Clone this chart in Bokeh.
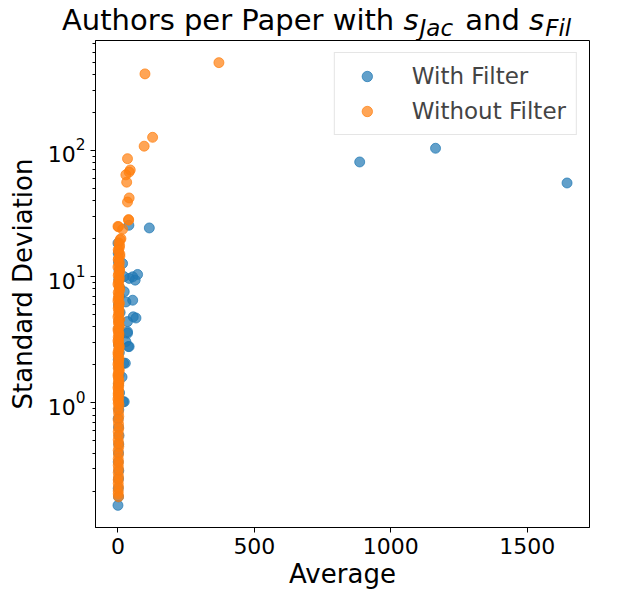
import math
from bokeh.plotting import figure
from bokeh.layouts import column
from bokeh.models import (Range1d, Div, Legend, LegendItem, FixedTicker, LogTickFormatter)
from bokeh.embed import file_html
from bokeh.resources import INLINE

# ---- data: With Filter (blue) ----
with_x = [886, 1164, 1646, 40, 115, 0, 54, 72, 63, 41, 23, 54, 29, 56, 66, 35, 35, 41, 29,
          27, 23, 0, 22, 35, 38, 21, 19, 15, 17,
          1, 2, 4, 3, 6, 5, 2, 8, 4, 3, 6, 2, 5, 1, 3, 4, 2, 6, 3, 1, 2, 4, 3, 2, 1, 3, 2, 1, 2, 1]
with_y = [81, 104, 55.2, 25.5, 24.3, 18.4, 9.96, 10.4, 9.38, 9.68, 7.6, 6.5, 6.3, 4.8, 4.7, 4.4,
          3.56, 2.79, 3.05, 2.06, 1.02, 0.154, 10.0, 3.66, 2.79, 2.06, 1.02, 1.6, 12.7,
          15.3, 13.0, 11.2, 9.5, 8.2, 7.0, 6.0, 5.2, 4.5, 3.9, 3.4, 2.9, 2.5, 2.2, 1.9, 1.65,
          1.4, 1.2, 0.88, 0.75, 0.64, 0.55, 0.47, 0.4, 0.34, 0.29, 0.25, 0.21, 0.18]

# ---- data: Without Filter (orange) ----
without_x = [370, 99, 127, 96, 35, 45, 41, 29, 32, 41, 35, 39, 39, 2, 17, 0, 8, 11,
             3, 5, 2, 7, 1, 4, 6, 3, 5, 2, 4, 6, 3, 1, 5, 2, 4, 3, 6, 2, 5, 1, 4, 3,
             2, 5, 3, 1, 4, 2, 3, 5, 1, 2, 4, 3, 2, 1, 3, 2, 4, 1, 2, 3, 1, 2, 3, 1,
             2, 1, 2, 3, 1, 2, 1, 2, 1, 2, 1, 2, 1, 1, 2, 1, 1, 2,
             6, 1, 7, 2, 5, 0, 6, 1, 4, 0, 5, 1, 3, 0, 4, 1, 3, 0, 2, 4, 0, 3, 1, 0, 2,
             3, 0, 1, 2, 0, 1, 3, 0, 2, 1, 0, 2, 1, 0, 1]
without_y = [496, 404, 127, 108, 86, 70, 67.4, 64, 56, 42, 39, 28, 28.3, 24.8, 23.7, 25, 19.6, 20,
             18.5, 17.0, 15.8, 14.5, 13.6, 12.4, 11.5, 10.6, 9.8, 9.1, 8.4, 7.8, 7.2, 6.7, 6.2,
             5.8, 5.4, 5.0, 4.6, 4.3, 4.0, 3.7, 3.45, 3.2, 3.0, 2.8, 2.6, 2.42, 2.25, 2.1, 1.95,
             1.82, 1.7, 1.58, 1.47, 1.37, 1.28, 1.19, 1.11, 1.03, 0.96, 0.9, 0.84, 0.78, 0.73,
             0.68, 0.63, 0.59, 0.55, 0.51, 0.48, 0.45, 0.42, 0.39, 0.36, 0.34, 0.32, 0.3, 0.28,
             0.26, 0.245, 0.23, 0.215, 0.2, 0.19, 0.18,
             17.7, 16.3, 15.1, 14.0, 13.0, 11.9, 11.0, 10.2, 9.4, 8.7, 8.1, 7.5, 6.9, 6.4, 6.0,
             5.6, 5.2, 4.8, 4.45, 4.15, 3.85, 3.57, 3.32, 3.1, 2.9, 2.7, 2.5, 2.33, 2.17, 2.02,
             1.88, 1.76, 1.64, 1.52, 1.42, 1.32, 1.23, 1.15, 1.07, 0.99]

x_ticks = [0, 500, 1000, 1500]
y_major = [1, 10, 100]
y_minor = [0.2, 0.3, 0.4, 0.5, 0.6, 0.7, 0.8, 0.9,
           2, 3, 4, 5, 6, 7, 8, 9,
           20, 30, 40, 50, 60, 70, 80, 90,
           200, 300, 400, 500, 600, 700]

FONT = "DejaVu Sans"
BLUE = "#1f77b4"
ORANGE = "#ff7f0e"

# matplotlib-like 5% margins
all_x = with_x + without_x
all_y = with_y + without_y
xmin, xmax = min(all_x), max(all_x)
xm = 0.05 * (xmax - xmin)
lmin, lmax = math.log10(min(all_y)), math.log10(max(all_y))
lm = 0.05 * (lmax - lmin)

# ---- title (mixed upright / italic subscript text) ----
sub = ('<span style="font-size:23px;font-style:italic;position:relative;top:6px;'
       'padding-left:1px;padding-right:3px;">{}</span>')
title_html = (
    '<div style="position:absolute;left:62px;top:0px;white-space:nowrap;'
    'font-family:\'DejaVu Sans\';font-size:29px;line-height:40px;color:black;">'
    'Authors per Paper with <i>s</i>' + sub.format("Jac") +
    ' and <i>s</i>' + sub.format("Fil") + '</div>'
)
t = Div(text=title_html, width=618, height=40, margin=0,
        styles={"position": "relative", "overflow": "visible"})

# ---- main plot ----
p = figure(frame_width=494, frame_height=487, y_axis_type="log",
           x_range=Range1d(xmin - xm, xmax + xm),
           y_range=Range1d(10 ** (lmin - lm), 10 ** (lmax + lm)),
           output_backend="svg", toolbar_location=None,
           min_border_left=95, min_border_top=0, min_border_right=29, min_border_bottom=40)
p.title = None
p.grid.visible = False
p.outline_line_color = "black"
p.outline_line_alpha = 1
p.outline_line_width = 1

r1 = p.scatter(with_x, with_y, size=10, fill_color=BLUE, line_color=BLUE,
               fill_alpha=0.7, line_alpha=0.7, line_width=1)
r2 = p.scatter(without_x, without_y, size=10, fill_color=ORANGE, line_color=ORANGE,
               fill_alpha=0.7, line_alpha=0.7, line_width=1)

p.xaxis.ticker = FixedTicker(ticks=x_ticks)
p.yaxis.ticker = FixedTicker(ticks=y_major, minor_ticks=y_minor)
p.yaxis.formatter = LogTickFormatter()

for ax in (p.xaxis, p.yaxis):
    ax.axis_line_color = "black"
    ax.major_tick_line_color = "black"
    ax.minor_tick_line_color = "black"
    ax.major_tick_out = 5
    ax.major_tick_in = 0
    ax.minor_tick_out = 3
    ax.minor_tick_in = 0
    ax.major_label_text_font = FONT
    ax.major_label_text_font_size = "22px"
    ax.major_label_text_color = "black"
    ax.major_label_standoff = 5
    ax.axis_label_text_font = FONT
    ax.axis_label_text_font_size = "26px"
    ax.axis_label_text_font_style = "normal"
    ax.axis_label_text_color = "black"
p.xaxis.axis_label_standoff = 2
p.yaxis.axis_label_standoff = 7
p.xaxis.minor_tick_line_color = None
p.xaxis.axis_label = "Average"
p.yaxis.axis_label = "Standard Deviation"

legend = Legend(items=[LegendItem(label="With Filter", renderers=[r1]),
                       LegendItem(label="Without Filter", renderers=[r2])],
                location="top_right", margin=12, padding=10, spacing=9,
                glyph_width=44, glyph_height=26, label_height=26, label_standoff=23,
                label_text_font=FONT, label_text_font_size="23px",
                border_line_color="#cccccc", border_line_width=1,
                background_fill_color="white", background_fill_alpha=0.8)
p.add_layout(legend)

layout = column(t, p, spacing=0)
open("out.html", "w").write(file_html(layout, INLINE))
